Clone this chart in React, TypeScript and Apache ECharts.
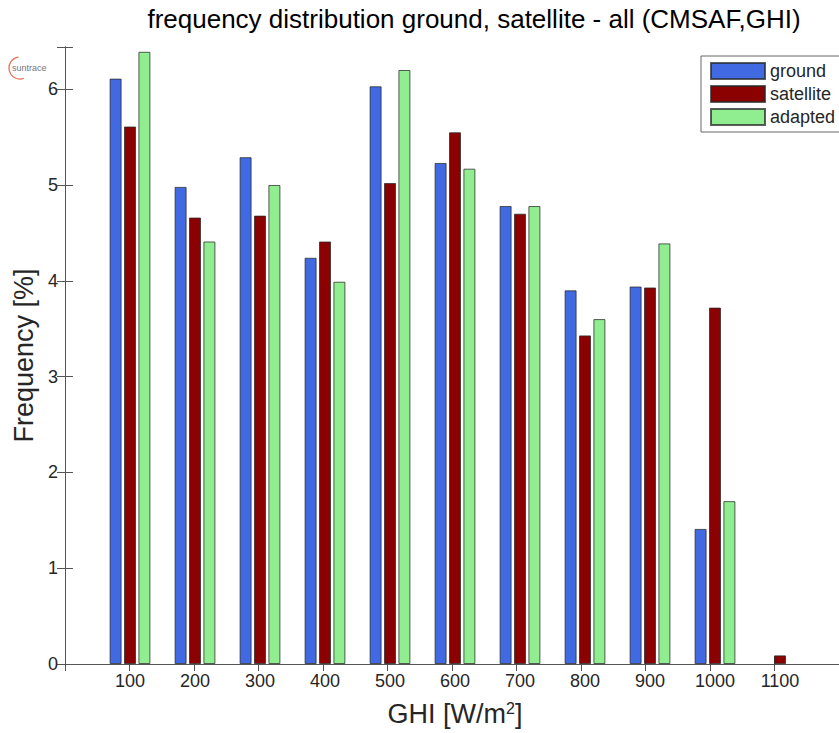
import React, { useEffect, useRef } from "react";
import * as echarts from "echarts";

const categories = ["100", "200", "300", "400", "500", "600", "700", "800", "900", "1000", "1100"];
const ground = [6.11, 4.98, 5.29, 4.24, 6.03, 5.23, 4.78, 3.9, 3.94, 1.41, 0];
const satellite = [5.61, 4.66, 4.68, 4.41, 5.02, 5.55, 4.7, 3.43, 3.93, 3.72, 0.09];
const adapted = [6.39, 4.41, 5.0, 3.99, 6.2, 5.17, 4.78, 3.6, 4.39, 1.7, 0];
const seriesNames = ["ground", "satellite", "adapted"];
const seriesColors = ["#4169E1", "#8B0000", "#90EE90"];
const yMin = 0;
const yMax = 6.44;
const yInterval = 1;
const xFrameMin = 0;
const xFrameMax = 1200;
const xFrameInterval = 100;

const FONT = "'Liberation Sans', Arial, Helvetica, sans-serif";
const AXIS = "#555";
const TXT = "#262626";

export default function App() {
  const ref = useRef<HTMLDivElement>(null);
  useEffect(() => {
    if (!ref.current) return;
    const chart = echarts.init(ref.current, null, { renderer: "svg" });
    const top = 47;
    const height = 617;
    const frameLeft = 65;
    const frameWidth = 780;
    const step = frameWidth / ((xFrameMax - xFrameMin) / xFrameInterval);
    const barsLeft = frameLeft + step / 2;
    const barsWidth = step * categories.length;
    const seriesData = [ground, satellite, adapted];
    const option: any = {
      animation: false,
      textStyle: { fontFamily: FONT },
      grid: [
        { left: frameLeft, top, width: frameWidth, height },
        { left: barsLeft, top, width: barsWidth, height },
      ],
      legend: {
        data: seriesNames,
        orient: "vertical",
        left: 701,
        top: 56,
        itemWidth: 54,
        itemHeight: 16,
        itemGap: 5,
        padding: [6, 20, 6, 9],
        borderColor: "#666",
        borderWidth: 1,
        backgroundColor: "#fff",
        icon: "rect",
        textStyle: { fontSize: 18, color: TXT, fontFamily: FONT, lineHeight: 17 },
      },
      xAxis: [
        {
          gridIndex: 0,
          type: "value",
          min: xFrameMin,
          max: xFrameMax,
          interval: xFrameInterval,
          position: "bottom",
          axisLine: { show: true, lineStyle: { color: AXIS, width: 1 } },
          axisTick: { show: true, inside: true, length: 7, lineStyle: { color: AXIS } },
          axisLabel: { show: false },
          splitLine: { show: false },
        },
        {
          gridIndex: 0,
          type: "value",
          min: xFrameMin,
          max: xFrameMax,
          interval: xFrameInterval,
          position: "top",
          axisLine: { show: true, lineStyle: { color: AXIS, width: 1 } },
          axisTick: { show: true, inside: true, length: 7, lineStyle: { color: AXIS } },
          axisLabel: { show: false },
          splitLine: { show: false },
        },
        {
          gridIndex: 1,
          type: "category",
          data: categories,
          axisLine: { show: false },
          axisTick: { show: false },
          axisLabel: { fontSize: 18, color: TXT, margin: 8, fontFamily: FONT },
          name: "GHI [W/m{sup|2}]",
          nameLocation: "middle",
          nameGap: 36,
          nameTextStyle: {
            fontSize: 27,
            color: TXT,
            fontFamily: FONT,
            rich: {
              sup: { fontSize: 16, verticalAlign: "top", padding: [0, 0, 12, 0], color: TXT, fontFamily: FONT },
            },
          },
        },
      ],
      yAxis: [
        {
          gridIndex: 0,
          type: "value",
          min: yMin,
          max: yMax,
          interval: yInterval,
          position: "left",
          axisLine: { show: true, lineStyle: { color: AXIS, width: 1 } },
          axisTick: { show: true, inside: true, length: 8, lineStyle: { color: AXIS } },
          axisLabel: {
            fontSize: 18,
            color: TXT,
            margin: 7,
            fontFamily: FONT,
            formatter: (v: number) => (Math.abs(v - Math.round(v)) < 1e-9 ? String(Math.round(v)) : ""),
          },
          splitLine: { show: false },
          name: "Frequency [%]",
          nameLocation: "middle",
          nameGap: 26,
          nameTextStyle: { fontSize: 27, color: TXT, fontFamily: FONT },
        },
        {
          gridIndex: 0,
          type: "value",
          min: yMin,
          max: yMax,
          interval: yInterval,
          position: "right",
          axisLine: { show: true, lineStyle: { color: AXIS, width: 1 } },
          axisTick: { show: true, inside: true, length: 8, lineStyle: { color: AXIS } },
          axisLabel: { show: false },
          splitLine: { show: false },
        },
        {
          gridIndex: 1,
          type: "value",
          min: yMin,
          max: yMax,
          show: false,
          splitLine: { show: false },
        },
      ],
      series: seriesNames.map((name, i) => ({
        name,
        type: "bar",
        xAxisIndex: 2,
        yAxisIndex: 2,
        data: seriesData[i].map((v) => (v === 0 ? { value: v, itemStyle: { borderWidth: 0, opacity: 0 } } : v)),
        barWidth: 12,
        barGap: "20%",
        itemStyle: {
          color: seriesColors[i],
          borderColor: "rgba(40,40,40,0.75)",
          borderWidth: 1,
        },
      })),
      graphic: [
        {
          type: "arc",
          shape: { cx: 20, cy: 68, r: 11, startAngle: (70 * Math.PI) / 180, endAngle: (262 * Math.PI) / 180, clockwise: true },
          style: { stroke: "#E8735A", lineWidth: 1.3, fill: "none" },
        },
        {
          type: "text",
          x: 12,
          y: 68,
          style: { text: "suntrace", fontSize: 9, fill: "#777", textVerticalAlign: "middle", fontFamily: FONT },
        },
        {
          type: "text",
          x: 474,
          y: 19,
          style: {
            text: "frequency distribution ground, satellite - all (CMSAF,GHI)",
            fontSize: 26,
            fill: "#000",
            textAlign: "center",
            textVerticalAlign: "middle",
            fontFamily: FONT,
          },
        },
      ],
    };
    chart.setOption(option);
    return () => chart.dispose();
  }, []);
  return <div ref={ref} style={{ position: "absolute", left: 0, top: 0, width: 839, height: 733, background: "#fff" }} />;
}
